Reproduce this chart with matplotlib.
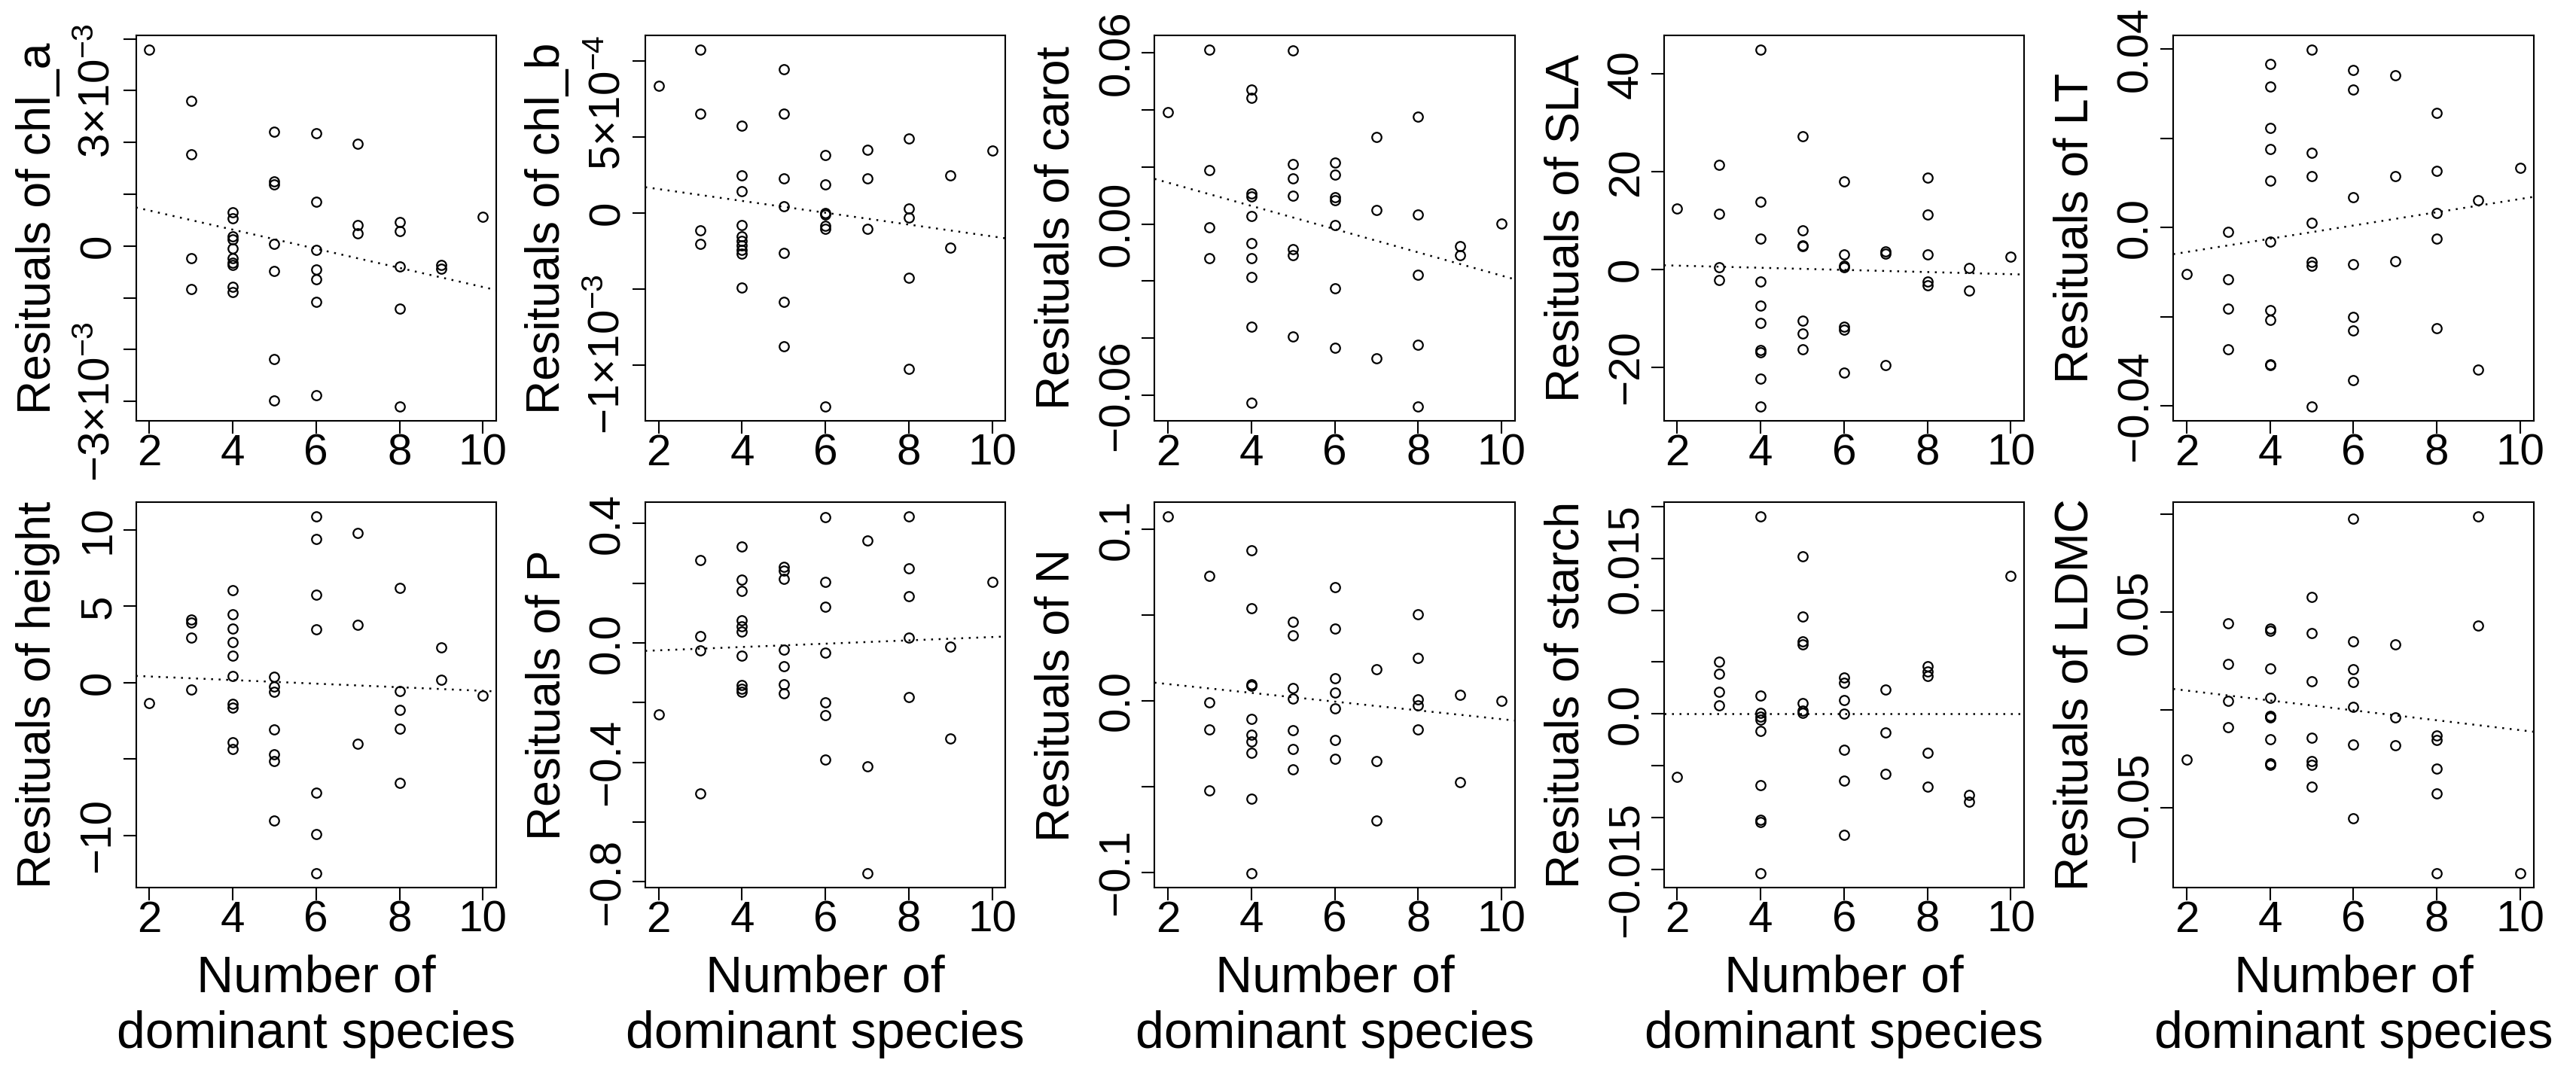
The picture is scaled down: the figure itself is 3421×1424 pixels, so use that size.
import numpy as np
import matplotlib
matplotlib.use("Agg")
import matplotlib.pyplot as plt
from matplotlib.transforms import ScaledTranslation

plt.rcParams['font.family'] = ['Liberation Sans', 'DejaVu Sans']
plt.rcParams['mathtext.fontset'] = 'custom'
plt.rcParams['mathtext.rm'] = 'Liberation Sans'
plt.rcParams['mathtext.it'] = 'Liberation Sans:italic'
plt.rcParams['axes.unicode_minus'] = True

# number of dominant species per plot (same for every panel)
n_species = [2, 3, 3, 3, 3, 4, 4, 4, 4, 4, 4, 4, 4, 4, 4,
             5, 5, 5, 5, 5, 5, 5, 6, 6, 6, 6, 6, 6, 6,
             7, 7, 7, 8, 8, 8, 8, 8, 9, 9, 10]

# residuals
res_chl_a = [0.00379, 0.00280, 0.00177, -0.00024, -0.00083, 0.00065, 0.00053, 0.00019, 0.00013, -0.00005,
             -0.00024, -0.00032, -0.00036, -0.00079, -0.00089, 0.00221, 0.00124, 0.00119, 0.00004, -0.00049,
             -0.00218, -0.00299, 0.00217, 0.00085, -0.00007, -0.00045, -0.00064, -0.00108, -0.00288, 0.00198,
             0.00041, 0.00025, 0.00046, 0.00029, -0.00040, -0.00121, -0.00310, -0.00036, -0.00044, 0.00057]
res_chl_b = [0.000835, 0.001073, 0.000654, -0.000116, -0.000203, 0.000573, 0.000246, 0.000140, -0.000083, -0.000154,
             -0.000185, -0.000215, -0.000242, -0.000270, -0.000492, 0.000945, 0.000650, 0.000226, 0.000043, -0.000266,
             -0.000585, -0.000880, 0.000382, 0.000189, -0.000002, -0.000010, -0.000087, -0.000104, -0.001274, 0.000413,
             0.000226, -0.000106, 0.000490, 0.000030, -0.000030, -0.000429, -0.001024, 0.000248, -0.000230, 0.000411]
res_carot = [0.0391, 0.0611, 0.0188, -0.0013, -0.0119, 0.0471, 0.0441, 0.0107, 0.0096, 0.0027,
             -0.0066, -0.0121, -0.0187, -0.0361, -0.0628, 0.0608, 0.0209, 0.0160, 0.0099, -0.0089,
             -0.0110, -0.0394, 0.0214, 0.0173, 0.0095, 0.0084, -0.0004, -0.0226, -0.0434, 0.0304,
             0.0048, -0.0471, 0.0377, 0.0032, -0.0179, -0.0424, -0.0640, -0.0078, -0.0110, 0.0002]
res_SLA = [12.56, 21.39, 11.42, 0.50, -2.15, 44.98, 13.88, 6.31, -2.46, -7.32,
           -10.91, -16.47, -16.97, -22.33, -28.01, 27.26, 8.08, 4.98, 4.79, -10.47,
           -13.00, -16.28, 18.04, 3.03, 0.76, 0.50, -11.74, -12.37, -21.07, 3.66,
           3.22, -19.50, 18.86, 11.23, 3.15, -2.52, -3.22, 0.25, -4.23, 2.65]
res_LT = [-0.0104, -0.0010, -0.0115, -0.0182, -0.0273, 0.0367, 0.0317, 0.0224, 0.0176, 0.0106,
          -0.0031, -0.0185, -0.0207, -0.0306, -0.0308, 0.0399, 0.0167, 0.0115, 0.0010, -0.0077,
          -0.0086, -0.0401, 0.0354, 0.0310, 0.0068, -0.0082, -0.0200, -0.0230, -0.0342, 0.0341,
          0.0116, -0.0075, 0.0258, 0.0127, 0.0033, -0.0024, -0.0225, 0.0061, -0.0319, 0.0134]
res_height = [-1.36, 4.13, 3.96, 2.97, -0.45, 6.04, 4.48, 3.56, 2.65, 1.78,
              0.45, -1.41, -1.61, -3.89, -4.36, 0.37, -0.25, -0.62, -3.07, -4.68,
              -5.12, -9.01, 10.89, 9.41, 5.77, 3.49, -7.18, -9.93, -12.48, 9.80,
              3.79, -4.01, 6.19, -0.54, -1.78, -3.00, -6.56, 2.30, 0.20, -0.84]
res_P = [-0.239, 0.277, 0.023, -0.024, -0.505, 0.324, 0.211, 0.175, 0.077, 0.056,
         0.037, -0.042, -0.141, -0.153, -0.163, 0.256, 0.243, 0.214, -0.023, -0.077,
         -0.139, -0.168, 0.422, 0.205, 0.122, -0.033, -0.200, -0.241, -0.392, 0.344,
         -0.413, -0.772, 0.424, 0.249, 0.156, 0.018, -0.181, -0.013, -0.320, 0.205]
res_N = [0.1076, 0.0730, -0.0007, -0.0168, -0.0523, 0.0878, 0.0542, 0.0097, 0.0088, -0.0106,
         -0.0198, -0.0236, -0.0302, -0.0569, -0.1006, 0.0461, 0.0384, 0.0073, 0.0013, -0.0170,
         -0.0282, -0.0399, 0.0664, 0.0421, 0.0132, 0.0046, -0.0042, -0.0227, -0.0337, 0.0185,
         -0.0351, -0.0697, 0.0503, 0.0249, 0.0009, -0.0026, -0.0168, 0.0033, -0.0476, 0.0002]
res_starch = [-0.00606, 0.00500, 0.00383, 0.00208, 0.00084, 0.01905, 0.00172, 0.00011, -0.00026, -0.00055,
              -0.00164, -0.00690, -0.01022, -0.01047, -0.01540, 0.01518, 0.00938, 0.00697, 0.00668, 0.00106,
              0.00033, 0.00011, 0.00347, 0.00296, 0.00128, 0.00000, -0.00347, -0.00646, -0.01168, 0.00230,
              -0.00182, -0.00577, 0.00462, 0.00405, 0.00361, -0.00376, -0.00704, -0.00781, -0.00850, 0.01332]
res_LDMC = [-0.0256, 0.0442, 0.0234, 0.0047, -0.0089, 0.0415, 0.0403, 0.0211, 0.0062, -0.0033,
            -0.0036, -0.0039, -0.0149, -0.0273, -0.0283, 0.0578, 0.0391, 0.0147, -0.0143, -0.0264,
            -0.0283, -0.0395, 0.0977, 0.0349, 0.0207, 0.0141, 0.0014, -0.0176, -0.0556, 0.0333,
            -0.0039, -0.0180, -0.0132, -0.0155, -0.0300, -0.0430, -0.0837, 0.0990, 0.0430, -0.0837]

traits = ['chl_a', 'chl_b', 'carot', 'SLA', 'LT', 'height', 'P', 'N', 'starch', 'LDMC']
residuals = [res_chl_a, res_chl_b, res_carot, res_SLA, res_LT,
             res_height, res_P, res_N, res_starch, res_LDMC]

# fitted lines (slope, intercept)
slopes = [-1.846e-4, -3.89e-5, -0.004074, -0.2188, 0.001487,
          -0.1175, 0.00557, -0.002558, 0.0, -0.002535]
intercepts = [1.054e-3, 2.34e-4, 0.02264, 1.248, -0.00844,
              0.643, -0.0360, 0.0149, 0.0, 0.01492]

# y ticks and their labels ('' = tick without label, as R drops overlapping ones)
yticks = [
    [-0.003, -0.002, -0.001, 0, 0.001, 0.002, 0.003, 0.004],
    [-0.001, -0.0005, 0, 0.0005, 0.001],
    [-0.06, -0.04, -0.02, 0, 0.02, 0.04, 0.06],
    [-20, 0, 20, 40],
    [-0.04, -0.02, 0, 0.02, 0.04],
    [-10, -5, 0, 5, 10],
    [-0.8, -0.6, -0.4, -0.2, 0, 0.2, 0.4],
    [-0.1, -0.05, 0, 0.05, 0.1],
    [-0.015, -0.01, -0.005, 0, 0.005, 0.01, 0.015, 0.02],
    [-0.05, 0, 0.05, 0.1],
]
ylabels = [
    [r'$-3{\times}10^{-3}$', '', '', '0', '', '', r'$3{\times}10^{-3}$', ''],
    [r'$-1{\times}10^{-3}$', '', '0', r'$5{\times}10^{-4}$', ''],
    ['\u22120.06', '', '', '0.00', '', '', '0.06'],
    ['\u221220', '0', '20', '40'],
    ['\u22120.04', '', '0.0', '', '0.04'],
    ['\u221210', '', '0', '5', '10'],
    ['\u22120.8', '', '\u22120.4', '', '0.0', '', '0.4'],
    ['\u22120.1', '', '0.0', '', '0.1'],
    ['\u22120.015', '', '', '0.0', '', '', '0.015', ''],
    ['\u22120.05', '', '0.05', ''],
]
xticks = [2, 4, 6, 8, 10]

# small upward nudges (pixels) of the exponent labels on the chl_b axis
label_shift = {(1, 0): 14, (1, 3): 45}

W, H = 3421, 1424
fig = plt.figure(figsize=(W / 100, H / 100), dpi=100)

box_w = 478.5
lefts = [180.5 + 676.4 * i for i in range(5)]
row_bottom_px = [559, 1179]
box_h = 512

for k in range(10):
    row, col = divmod(k, 5)
    ax = fig.add_axes([lefts[col] / W, 1 - row_bottom_px[row] / H, box_w / W, box_h / H])
    x = np.array(n_species)
    y = np.array(residuals[k])

    ax.plot(x, y, 'o', mfc='none', mec='black', ms=9, mew=1.6)
    ax.axline((0, intercepts[k]), slope=slopes[k], color='black', lw=1.8,
              linestyle=(0, (1, 3)))

    # R default: 4% extension of the data range
    xr = x.max() - x.min()
    yr = y.max() - y.min()
    ax.set_xlim(x.min() - 0.04 * xr, x.max() + 0.04 * xr)
    ax.set_ylim(y.min() - 0.04 * yr, y.max() + 0.04 * yr)

    ax.set_xticks(xticks)
    ax.set_xticklabels([str(t) for t in xticks])
    ax.set_yticks(yticks[k])
    ax.set_yticklabels(ylabels[k], rotation=90, va='center', ha='right')

    ax.tick_params(axis='both', direction='out', length=12.2, width=1.5, labelsize=42)
    ax.tick_params(axis='x', pad=0)
    ax.tick_params(axis='y', pad=4)
    for s in ax.spines.values():
        s.set_linewidth(1.5)

    for i, lab in enumerate(ax.get_yticklabels()):
        if (k, i) in label_shift:
            lab.set_transform(lab.get_transform() +
                              ScaledTranslation(0, label_shift[(k, i)] / 100, fig.dpi_scale_trans))

    ax.set_ylabel('Resituals of ' + traits[k], fontsize=45, va='center')
    ax.yaxis.set_label_coords(-0.272, 0.5)

    if row == 1:
        ax.text(0.5, -0.270, 'Number of', transform=ax.transAxes,
                ha='center', va='baseline', fontsize=49)
        ax.text(0.5, -0.416, 'dominant species', transform=ax.transAxes,
                ha='center', va='baseline', fontsize=49)

fig.savefig('out.png', dpi=100, facecolor='white')
